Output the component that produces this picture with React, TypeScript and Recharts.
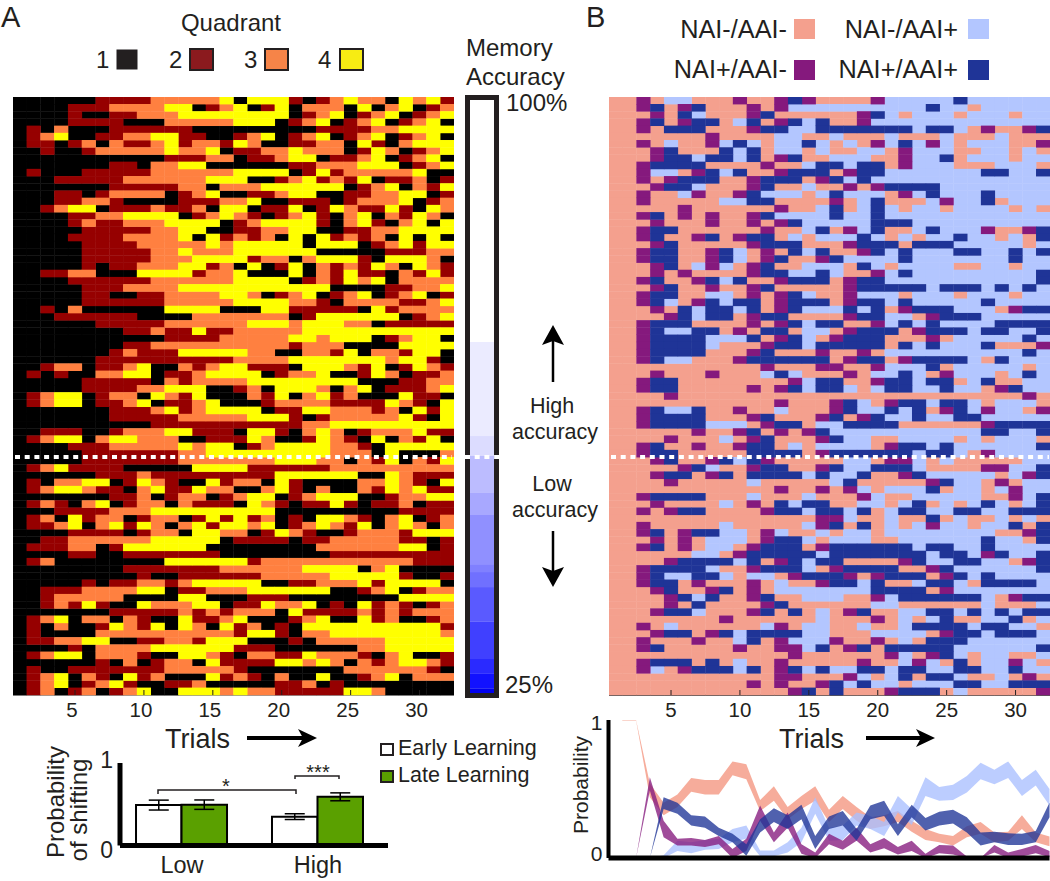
import React from "react";
import {
  ScatterChart, Scatter, XAxis, YAxis, BarChart, Bar, ErrorBar, AreaChart, Area,
} from "recharts";

const FONT = "'Liberation Sans', Arial, sans-serif";
const INK = "#231f20";

const trialTicks = [5, 10, 15, 20, 25, 30];
const rowTicks = [4, 14, 24, 34, 44, 54, 64, 74];

// Panel A: quadrant visited per trial (1 to 4), one string per animal
const quadrantRows = [
  "111111 2222 33333 4 1 444 2 1 2 3 4 33 1 4 3 4 2",
  "1111 222 3333 44 1 2 3 4 1 2 4 1 333 1 4 1 3 4 1 2 3",
  "1111 2 11 22 333 44444444 1 2 3 4 1 2 3 4 1 2 3 4",
  "1111 2222 111 33333 444 1 2 3 4 1 2 3 4 1 2 3 4 1",
  "1 2 1 3 111 222222 111111111 2222 33 4444",
  "1 2 3 4 11 22 33 44 22 11 2 3 4 1 2 3 4 1 2 3 4 1 2 3 4 1",
  "1 22 1 2 3 1 3 22 3 4 2 33 2 4 3 11 22 33 1 4 2 1 3 444",
  "11 2 11 2 33333 4 33 4 1 22 33 4 333 1 2 4 3 1 2 3 4",
  "11111111111 222 33 1 22 3 44 1 22 3 4 1 2 3 4 1",
  "1111111 22 1 33 44 111111 22 333 444 1 2 3 4",
  "1 2 111 22222 333333 4444 1 2 4 2 33333 4 11",
  "111 22222 333333 444 11 2 3 4 2 3 2 4 1 22 3 1 2",
  "1111111 22222 33 1 3 33 444444 1 2 3 4 1 3 2 4",
  "111 22 1 2 3333 1 2 3 4 11 22 3 44 11 22 33 44 1 2",
  "111 22 33 2 1111 222 33 4 11 222 1 2 333 4 1 2 3",
  "11 2 3 44 1 222 3 22 3 1 44 1 22 4 1 2 4 3 22 4 2 1 4 3",
  "1111 22 33 4444 1 2 3 4 3 2 1 2 3 4 2 1 3 4 1 3 2 4 3 1",
  "1111 2 3 22 333 4444 1 2 3 4444 2 1 3 4 2 1 3 4 1 4",
  "11111 22222 33 44 11 22 33 44 11 22 33 4444",
  "1111 2222 3333 4 1 4 2 3 2 3 1 4 1 4 2 3 2 3 1 4 1 4 1",
  "11111 2222 33333 4 3 44444 1 444 1 2 3 4 2 44",
  "11111 22222 33 4 333 444444 11111 222 33",
  "11111 22222 333 4444 2 33 1 3 444 2 1 444 3 1",
  "11111 2 1 22 333 44 2 3 1 4 1 2 4 1 3 2 3 2 4 3 1 4 3 2",
  "11 22 33 111 4444 2 33 4 111 4 1 3 2 4 22 1 3 2 4 2",
  "1111 222222 333333 4444 1 2 3 2 4 3 4 1 3333",
  "11111 222 3333 44444444444 1111 22 33 4",
  "11111 22 11 22 3333 4 4 3 1 2 3 4 1 2 3 4 1 2 3 4 1 2",
  "11111 222222 33333 4444 33 2 1 3333 22 3 4",
  "11 2 1 3 111111 4444 111 44 22222 1 4 2 3333",
  "111 222222 1111 3333333 1 2 444444 1 2 3 4",
  "111111 22222 333333 444 3 444 33 1 22222",
  "11111111 22 3 22 4 22 33333 44444444444",
  "11111111111 2222 33333 44 3 444 1 2 3 44 1",
  "11111111 22 3333333333 2 333 1111 4444",
  "1111111 2 3 222 44444 33 11 33 2 4 1 33 2 44 1",
  "111111 2222222222 3333 4444444 3 44 2 1",
  "11 2 33 1 22 3 4 11 3 2 3 44 222 1 444 3 2 4 1 2 4 3 2",
  "1 2 1 2 11 33 44 1 22 3 444 4 1 2 33 4 11 2 4 3 1 22 3",
  "11111 22222 1 3 2 3333 44444444 111 22 33",
  "11111 2222 33 444 11 2 3 1 444 3 1 3 4 1 222 3 4",
  "1 2 3 44 1 2 33 1 4 3 2 4 111 3 2 4 1 3 4 2 3 111 4 22 1",
  "1 2 3 44 1 22 3 4 1 22 3 4 111 2 3333 2222 4 3 2 1 4",
  "1111111 222 3 4 2 3 4444 1 22 44 333 2 3 1 4 2 4",
  "1111111 22222 33333 444 2 1 2 33333 4 2 1 4",
  "1111111111 22222222222 33 444444444",
  "11 222 11 2 333 44 222 1 44 2 1 3 4 3 1 2 333 4 22",
  "1 2 3 44 1 3 44 333 11 222 4 3 11 2 4 3 2 1 4 1 3 2 4 1",
  "1111 222 33333 4 3 44 1 2 3 4444 33 2 1 44444",
  "11111 2222222 33 44 4444444 333 1 4 111 3",
  "11111 2222222 3333333 444 33 1 3 2 4 1 3 2 4",
  "1 2 3 4 2222 11111 4444 222222 333333333",
  "111111 222 3 222222222 444444 11 4 3 222",
  "1 2 1 33 44 1 2 4 3 2 11 4 2 33 1 4 2 1111 33 4 3 2 1 4",
  "1 2 3 44 3 22 1 3 4 22 4 33 11 3 4 2 1 3 11 3 2 4 3 4 22",
  "1111111 22 3 1 2 33 1 2 3 44 1 2 3 444 11 2 33 44",
  "1 2 3 2 1 3 4 1 2 33 1 3 222 1 4 3 2 1 22 4 2 1 22 3 1 22",
  "111 2222 333 444444444 111111111 2222",
  "1 2 3 1 4 2 33 1 2 33 1 2 4 2 4 2 3 1 2 1 44 3 2 1 3 4 1 2 3",
  "1 22 3 4 1 3 4 2 4 3 1 3 4 2 44 3 4 1 2 3 4 3 2 4 1 3 4 3 1 3",
  "1111 2222 1 2 33 1 44 33 1 2 4 3 2 11 2 333 2 444",
  "11 22 333333 44444 1 2222 1 22 33333 22 1 2",
  "1 222 33 1 2 444444 11111111 333333 44 1 2",
  "1111 22 11 2222222 11111111 222222222",
  "1 2 3 11111111 444444 2 33333333333 222",
  "11111111 2222222 333333 4444 1 3 4 1111",
  "111111111 2 11 222222 33333 44444 2 11 2",
  "11111 2 1 22 33 2 3 44444 11 22 333 4 2 4444 1",
  "11 222 3333 44 1 22 333 444444 11 2 3 4 1 2 33",
  "11 2 33333 1111 44 111 222 11111111 4444",
  "11 2 3 2 4 2 11 4 333 44 1 22 4 33 4 1 2 1 4 2 3 2 1 2 3",
  "1111111 22222 3 2 3 2 333 1 4 2222 3 2 3 2 333",
  "1 2 3 4 1 33 1 3 2 11 4 22 3 4 111 2 3 4 11 4 2 3 11 2 3",
  "1 2 1 3 11 2 4 3 2 4 1 4 3 1 4 2 3 1 2 1 4444444444 2",
  "1 2 1111 3333333333 2 44 2 1 33 44444444 3",
  "1 22 33 44 11 22 33 2 444 111 2 1 33333 44444",
  "1111 2 1 3333 44444 4 222 111111 33 44444",
  "1 2 3 44 1 333 2 11 44 3 2 1 33 22 4 333 2 1 3 4 11 2",
  "111111 2 1 3 1 2 33 1 4 2 222 44 3 4 3 1 3 2 3 44 3 2",
  "1 2 11 2222222 33333 2 1111111 333333 2 1",
  "1 2 3 4 1 3 2 1 4 2 3 111 4 2 3 2 1 3 11 4 11 2 3 4 1 333",
  "1 2 3 4 1 2 3 4 2 11 22 3 111 11 22 3 1 2 11111111",
  "1 2 3 1 2 3 1 2 3 4 11 444 3 4 33 22222 44 3 11111",
];

// Panel B: 1 NAI-/AAI-, 2 NAI-/AAI+, 3 NAI+/AAI-, 4 NAI+/AAI+
const strategyRows = [
  "11 3 1 22 111 3 11 3 4 3 1 111 3 22222 4 222222",
  "11 3 4 1 3 4 111 3 1 3 222 2222222 4 22 1 22222",
  "111 3 1 4 2 111 3 4 1111 11 3 4 2 1 222 1 222 1 22",
  "11 3 4 1 3 44 1 2 4 1 3 4 2 4 11 3 2222222222222",
  "11 3 1 444 111 3 44 22 4 444444 2 44 2 1 3 11 3 4",
  "1111111 3 1111 22 11 2 111 2 111 2 111 2 111",
  "11 3 1 2 11 3 2 4 2 1 22 4 2 1 2 1 3 2 4 2 3 2 1 222 11 3",
  "111 3 4 111 4 2 4 1 22 1 2 11 22 1 3 222 11 22 1 2 1",
  "111 3 44 2 44 2 4 1 3 4 11 222 11 3 22 4 1 222 1 22",
  "11 3 4444 1111 3 11 2 4 4 2 44 1 3 222 111 222 1",
  "11 3 22 1 3 4 2 4 11 3 444 1 3 44 2222222 44 22 4",
  "11 3 1 3 444 11 3 444 1 3 4 2 4 2222222222222",
  "111 3 44 2 111 3 4 11 2 1 1 3 1 3 4444 22222222",
  "11 3 11 2 3 11 3 4 222 1 2 4 222 1 3 2 4 222 4 2222",
  "11 3 11111 22 44 1111 3 1 2 4 111 2 3 22 4 1 222",
  "11111 3 111111 3 11 2 4 1 2 4 2 1 22 1 2222 1 2 1",
  "11 3 4 1 3 1 3 11 3 4 2222 4 22 4 222222222222",
  "111 3 111 3 11 3 1 3 4 22 222 444 2222222222",
  "11 3 44 111111 3 11 2 4 1 3 2 4 11 2 4 222 3 11 3 4",
  "11 3 4 11 3 4 1 3 44 1 2 1 2 22 4 2 1 2 1 22 4 22 1 2 1 4",
  "111 3 4 11111 3 444 11 1 3 444 1 444 22222 1 2",
  "11 3 44 11 3 4 2 1 3 1 4 2 4 11 3 4 2 4 222 44 22 4 2 4",
  "11 3 44 11 3 4 2 1 3 4 11 3 4 222 2 4 2222222 4 22",
  "111 3 4 1 2 3 2 1 3 4 11 22 2 1 4 2 1 2222 11 22 1 22",
  "111 3 1 3 1111 3 44 22 4 2 11 3 2 4 222222222 4",
  "11 3 4 11 3 4 2 4 11 3 444 1 3 44 22222222222 4",
  "111 3 4 11 3 11 3 4 1111 1 3 44444 2 444 2 4 2 4 2",
  "11 3 44 11 22 1 3 1 3 4 2 1 1 3 222 1 222 1 222 1 22",
  "11 3 4 2 1 3 4 2 44 1 3 444 1 3 44 2 4 22222 4 2222",
  "111 3 1 4 2 44 2 4 1 3 4 22 2 4 2 4 1 3 444 222 1 3 44",
  "1111 3 4 2 44 1 3 44 111 1 3 44 22 1 3 444 22222",
  "11 3 444 1111 3 1 3 4 2 4 4 11 3 2 4 2 4 2222 4444",
  "11 3 4 22 44 1 3 1 44 1 2 2 1 3 444 1 3 444 2 44 22 4",
  "11 3 4444 222 4 1 3 4 2 1 3 444 111 3 1 22222 4 2",
  "11 3 4444 2 111 3 44 2 4 4444 1 4 2 4 222 4 111 3",
  "11 3 4444 111 3 4 111 3 11 3 1 2222222222 4 2",
  "11 3 4 22 111 3 444444 1 3 44 1 3 4444 2 1 4 222",
  "11111111111 3 111 3 3 11 3 222 4 1 22222 1 2",
  "111 3 111 3 111 2 4 2 11 1 3 1 22 4 2 1 3 222 1 2 4 2",
  "11 3 44 11111111 3 2 4 4 11 3 44 2 44 1 2 4 11 22",
  "11 3 44 11111 3 1 3 4 2 4 4 2 1 2 44 22 4 22 1 3 4 22",
  "1111 3 11111111111 11111111111111 3 1",
  "111111111111 3 111 3 4 2 1 3 44 2 44 2 1 222 1",
  "11 3 4 22 4 11 3 11 2 111 3 4 22 4 2 4 1 3 4 2 3 22 1 3",
  "11 3 4444 111 3 4 111 3 4 1 3 4 22 4 22 44 22222",
  "11 3 4444 222 1 3 44 1 2 2 4444 111111 3 4444",
  "111111 3 11 3 4 1 3 1 3 4 22222222222 44 22 4",
  "1111 3 111 2 1 3 4 111 3 4 22 11 2222 1 2 1 222 1",
  "11 3 4 11 3 11 3 44 1 2 1 2 222 1 3 44 2 4 222222 4",
  "11 3 44 11111 4444 1 3 444444 2 44 2 1 3 2222",
  "111 3 4 11 3 4 2 4 3 1111 1 22 1 33 2 1 2 11111 22",
  "11111 3 4 2 11 3 44 11 3 4 22 444 2 1111 33 22 4",
  "111 3 44 1 3 4 1 4444 2 4 22 4 11 3 4 22222 1 2 3 4",
  "1111 3 11111 2 11111 2 4 11111 3 4 22 1 3 1 22",
  "111111111111 3 11 3 1 3 2 1 222 4 1 22 1 2 3 22",
  "11 3 4444 111 2 111 2 111 3 2 11 22222 11 3 2 4",
  "111 3 1111 2 1 3 1 4 2 44 11 22 1 2 4 1 2 1 2 4 2 1 2 4",
  "11 3 1 3 44 1111 3 44 2 4 4 2 4 1 2 44 22 44 22 444",
  "111111111111111 3 3 2 11 2 11 4 1 2 11 2 1 2 1",
  "11 3 11111 2 11111 2 3 4 1 4 1 2 1 2 3 22 1 22 4 1 4",
  "11 3 4 1 3 44 22 1 3 2 11 2 1 22 1 22222222 11 3 4",
  "111 3 1 3 1 222 1 3 44 2 1 222 11 222222 4 22 1 4",
  "11 3 4 1 3 1 22 1 3 444 1 3 444444 2 44 22 4 2222",
  "111111 22 1 3 44444 2 4444444 2 44 2 3 4 22 4",
  "1111 3 4444 2 4 1 3 4 2 4 4 1111 3 4 22 44 22 1 3 4",
  "11 3 4444 2 11 3 444 2 1 3 4444 11 3 4 222222 4",
  "11 3 4 22 44 2 1 22 1 3 44 4 3 1 3 444 1 3 4 2 4 2222",
  "11 3 44 1 3 111 3 1 2 11 3 44 2 4 11 2 44 2 1 4444 2",
  "111 3 4 11 3 4 1 3 1 2222 222 4444 1 3 2222222",
  "1111 3 4 2 4 11 3 4 11 22 2 11 3 2 444444 2 1 3 44",
  "1111 3 1 4 111 1 3 4 111 111 22 111111 2 111 2",
  "111 3 44 2 111 3 4 1 4 1 2 1 3 4 11 22 44 2 4 2 4 2 44",
  "11111111 3 111111 2 111 3 1 2 1 2 4 11 22 4 1 2",
  "11 3 1 2 111111 2 3 1 22 11 2 11 2 4444 2 44 22 1",
  "111 3 44 1 3 4 2 4444 22 111 222 2 1 3 44 2 444 2",
  "11 3 111 3 11 2 4 1 3 222 3 11 3 1 2 1 444 222222",
  "11 3 4 11111 3 11 33 2 4 1 3 4 1 44444 222222 4",
  "1111111111111 3 11 1111 3 2 1 3 4 2 1 22 11 2",
  "11 3 444 1 4 1 2 11 3 111 11 3 11 2 3 2 1 4 1 22 3 2 1",
  "11 3 2 1 3 444 2 4 1 3 4 2 4 22 44 2 44 22 44 22 4 22",
  "111111111111 33 11 1 3 2 1 2 4 1 44 2 11 2 1 3 1",
  "1111111111 3 1 3 11 3 4 2 4 22 1 222 44 22 444",
  "1111111111111 3 4 1 4 111 3 444 1 2 11111 3",
];

const quadrantColors = ["#000000", "#960000", "#ff8040", "#ffff00"];
const strategyColors = ["#f4a08e", "#b3c6ff", "#85197d", "#1f3497"];

// Memory accuracy colour scale, top to bottom, spans in accuracy points
const scaleSpans = [30.6, 11.9, 2.5, 4.7, 2.8, 6.3, 0.9, 1.9, 4.4, 4.7, 1.8, 1.9, 0.6];
const scaleColors = ["#ffffff", "#ebebff", "#dcdcff", "#bcbcff", "#a8a8ff", "#9090ff", "#8080ff", "#7070ff", "#5a5aff", "#4040ff", "#2a2aff", "#1212ff", "#0000ee"];

// Probability of shifting
const groupNames = ["Low", "High"];
const groupIndex = [1, 2];
const earlyValues = [0.49, 0.35];
const earlyErrors = [0.06, 0.035];
const lateValues = [0.495, 0.59];
const lateErrors = [0.057, 0.048];

// Band bounds per trial, trials 1 to 33
const n = null;
const salmonHi = [n, 1, 1, .54, .40, .46, .58, .565, .565, .70, .68, .42, .52, .37, .45, .52, .35, .45, .37, .295, .31, .34, .27, .21, .175, .16, .23, .26, .185, .19, .31, .185, .155];
const salmonLo = [n, .996, .996, .44, .31, .37, .48, .46, .46, .60, .57, .34, .415, .28, .355, .415, .26, .355, .27, .21, .23, .26, .19, .13, .115, .09, .15, .175, .115, .125, .21, .115, .085];
const lightHi = [n, n, n, 0, .02, .125, .115, .13, .14, .21, .235, .055, .055, .115, .22, .44, .22, .235, .33, .305, .26, .45, .355, .585, .515, .53, .595, .69, .64, .70, .565, .64, .50];
const lightLo = [n, n, n, 0, 0, .05, .035, .06, .065, .115, .14, .012, .012, .04, .115, .32, .125, .13, .235, .21, .16, .33, .24, .45, .415, .42, .475, .57, .535, .58, .45, .525, .38];
const purpleHi = [n, n, 0, .585, .27, .14, .145, .13, .16, .065, .14, .38, .185, .33, .10, .04, .175, .125, .22, .10, .145, .08, .125, .03, .095, .09, .01, 0, .095, .04, .065, .095, .05];
const purpleLo = [n, n, 0, .49, .15, .09, .09, .08, .10, 0, .05, .27, .115, .22, .03, 0, .10, .06, .125, .04, .07, .025, .05, 0, .035, .025, 0, 0, .04, 0, .01, .035, .005];
const navyHi = [n, n, n, 0, .44, .40, .31, .30, .22, .175, .10, .28, .36, .31, .385, .16, .30, .34, .21, .38, .415, .245, .385, .29, .335, .35, .295, .185, .19, .18, .175, .195, .40];
const navyLo = [n, n, n, 0, .355, .32, .235, .22, .16, .115, .017, .185, .26, .21, .28, .065, .21, .235, .125, .28, .305, .16, .295, .20, .235, .25, .185, .09, .115, .095, .095, .115, .295];

const bandRows = salmonHi.map((_, i) => {
  const band = (lo: (number | null)[], hi: (number | null)[]) => (hi[i] === null ? null : [lo[i], hi[i]]);
  return {
    t: i + 1,
    salmon: band(salmonLo, salmonHi),
    light: band(lightLo, lightHi),
    purple: band(purpleLo, purpleHi),
    navy: band(navyLo, navyHi),
  };
});

const shiftRows = groupNames.map((name, i) => ({
  name, idx: groupIndex[i], early: earlyValues[i], earlyErr: earlyErrors[i], late: lateValues[i], lateErr: lateErrors[i],
}));

const PLOT_W = 441;
const PLOT_H = 598;
const CELL_W = PLOT_W / 32;
const CELL_H = PLOT_H / 83;

function cellsFor(rows: string[], code: number) {
  const out: { trial: number; row: number }[] = [];
  rows.forEach((r, ri) => {
    r.replace(/ /g, "").split("").forEach((c, ci) => {
      if (Number(c) === code) out.push({ trial: ci + 1, row: ri + 1 });
    });
  });
  return out;
}

const CellShape = (props: any) => (
  <rect x={props.cx - CELL_W / 2 - 0.2} y={props.cy - CELL_H / 2 - 0.2} width={CELL_W + 0.4} height={CELL_H + 0.4} fill={props.fill} />
);

const BottomTick = (p: any) => (
  <g>
    <line x1={p.x} x2={p.x} y1={p.y} y2={p.y - 5} stroke={INK} strokeWidth={1} />
    <text x={p.x + (p.labelShift || 0)} y={p.y + 22} textAnchor="middle" fontSize={20.5} fontFamily={FONT} fill={INK}>{p.payload.value}</text>
  </g>
);
const TopTick = (p: any) => <line x1={p.x} x2={p.x} y1={p.y} y2={p.y + 5} stroke={INK} strokeWidth={1} />;
const LeftTick = (p: any) => <line x1={p.x} x2={p.x + 5} y1={p.y} y2={p.y} stroke={INK} strokeWidth={1} />;
const RightTick = (p: any) => <line x1={p.x} x2={p.x - 5} y1={p.y} y2={p.y} stroke={INK} strokeWidth={1} />;

function Heatmap({ rows, colors, left, frame, tickSide, labelShift }: { rows: string[]; colors: string[]; left: number; frame: string; tickSide: "left" | "right"; labelShift: number }) {
  return (
    <div style={{ position: "absolute", left, top: 97 }}>
      <ScatterChart width={PLOT_W} height={PLOT_H + 30} margin={{ top: 0, right: 0, bottom: 0, left: 0 }}>
        <XAxis xAxisId="b" dataKey="trial" type="number" domain={[0.5, 32.5]} ticks={trialTicks} interval={0} height={30}
          axisLine={{ stroke: frame, strokeWidth: 1.5 }} tickLine={false} tickSize={0} tickMargin={0} tick={<BottomTick labelShift={labelShift} />} />
        <XAxis xAxisId="t" orientation="top" type="number" domain={[0.5, 32.5]} ticks={trialTicks} interval={0} height={0}
          axisLine={{ stroke: INK, strokeWidth: 1 }} tickLine={false} tickSize={0} tickMargin={0} tick={<TopTick />} />
        <YAxis yAxisId="l" dataKey="row" type="number" reversed domain={[0.5, 83.5]} ticks={tickSide === "left" ? rowTicks : []} interval={0} width={0}
          axisLine={{ stroke: frame, strokeWidth: 1.5 }} tickLine={false} tickSize={0} tickMargin={0} tick={<LeftTick />} />
        <YAxis yAxisId="r" orientation="right" type="number" reversed domain={[0.5, 83.5]} ticks={tickSide === "right" ? rowTicks : []} interval={0} width={0}
          axisLine={{ stroke: "#888888", strokeWidth: 1 }} tickLine={false} tickSize={0} tickMargin={0} tick={<RightTick />} />
        {colors.map((c, i) => (
          <Scatter key={c} xAxisId="b" yAxisId="l" data={cellsFor(rows, i + 1)} fill={c} shape={<CellShape />} isAnimationActive={false} />
        ))}
      </ScatterChart>
    </div>
  );
}

const scaleRow = [Object.fromEntries(scaleSpans.map((v, i) => ["s" + i, v]))];

function ColorScale() {
  return (
    <div style={{ position: "absolute", left: 465, top: 95, width: 24, height: 593, border: `5px solid ${INK}` }}>
      <BarChart width={24} height={593} data={scaleRow} margin={{ top: 0, right: 0, bottom: 0, left: 0 }} barCategoryGap={0}>
        <XAxis hide />
        <YAxis hide reversed domain={[0, 75]} allowDataOverflow />
        {scaleColors.map((c, i) => (
          <Bar key={c} dataKey={"s" + i} stackId="scale" fill={c} isAnimationActive={false} />
        ))}
      </BarChart>
    </div>
  );
}

const ShiftYTick = (p: any) => (
  <text x={p.x - 7} y={p.payload.value === 1 ? p.y + 5 : p.y + 12} textAnchor="end" fontSize={23} fontFamily={FONT} fill={INK}>{p.payload.value}</text>
);
const ShiftXTick = (p: any) => (
  <text x={p.x} y={p.y + 27} textAnchor="middle" fontSize={23.5} fontFamily={FONT} fill={INK}>{groupNames[p.payload.value - 1]}</text>
);

function ShiftBars() {
  return (
    <div style={{ position: "absolute", left: 80, top: 735 }}>
      <BarChart width={310} height={146} data={shiftRows} margin={{ top: 28, right: 2, bottom: 0, left: 0 }} barGap={0} barSize={45.5}>
        <XAxis dataKey="idx" type="number" scale="linear" domain={[0.544, 2.515]} ticks={groupIndex} interval={0} allowDataOverflow height={35.5}
          axisLine={{ stroke: "#000", strokeWidth: 5 }} tickLine={false} tickSize={0} tickMargin={0} tick={<ShiftXTick />} />
        <YAxis type="number" domain={[0, 1]} ticks={[0, 1]} width={40} interval={0}
          axisLine={{ stroke: "#000", strokeWidth: 5 }} tickLine={false} tickSize={0} tickMargin={0} tick={<ShiftYTick />} />
        <Bar dataKey="early" fill="#ffffff" stroke="#000" strokeWidth={2} isAnimationActive={false}>
          <ErrorBar dataKey="earlyErr" width={10} stroke="#000" strokeWidth={1.5} />
        </Bar>
        <Bar dataKey="late" fill="#5aa000" stroke="#000" strokeWidth={2} isAnimationActive={false}>
          <ErrorBar dataKey="lateErr" width={10} stroke="#000" strokeWidth={1.5} />
        </Bar>
      </BarChart>
    </div>
  );
}

const BandYTick = (p: any) => (
  <text x={p.x - 6} y={p.payload.value === 1 ? p.y + 10 : p.y + 3} textAnchor="end" fontSize={21} fontFamily={FONT} fill={INK}>{p.payload.value}</text>
);

const bandSeries = [
  { key: "salmon", color: "#f4957f" },
  { key: "light", color: "#a9bfff" },
  { key: "purple", color: "#85197d" },
  { key: "navy", color: "#1f3497" },
];

function Bands() {
  return (
    <div style={{ position: "absolute", left: 578, top: 710 }}>
      <AreaChart width={472} height={160} data={bandRows} margin={{ top: 10, right: 0.5, bottom: 0, left: 0 }}>
        <XAxis dataKey="t" type="number" domain={[1, 33]} height={12} tick={false} tickLine={false} axisLine={{ stroke: "#000", strokeWidth: 5 }} />
        <YAxis type="number" domain={[0, 1]} ticks={[0, 1]} width={30.5} interval={0} allowDataOverflow
          axisLine={{ stroke: "#000", strokeWidth: 4 }} tickLine={false} tickSize={0} tickMargin={0} tick={<BandYTick />} />
        {bandSeries.map((s) => (
          <Area key={s.key} dataKey={s.key} type="linear" fill={s.color} fillOpacity={0.78} stroke="none" isAnimationActive={false} connectNulls={false} dot={false} activeDot={false} />
        ))}
      </AreaChart>
    </div>
  );
}

function T({ x, y, size = 24, anchor = "start", rotate, children }: any) {
  return (
    <text x={x} y={y} fontSize={size} textAnchor={anchor} fontFamily={FONT} fill={INK}
      transform={rotate ? `rotate(${rotate} ${x} ${y})` : undefined}>{children}</text>
  );
}

function Sq({ x, y, w = 22, h = 20, fill, bw = 2 }: any) {
  return <rect x={x} y={y} width={w} height={h} fill={fill} stroke={INK} strokeWidth={bw} />;
}

const DIVIDER = { stroke: "#ffffff", strokeWidth: 4, strokeDasharray: "5 4.7" };

function Annotations() {
  return (
    <svg width={1050} height={881} style={{ position: "absolute", left: 0, top: 0, pointerEvents: "none" }}>
      <T x={1} y={27} size={29}>A</T>
      <T x={586} y={27} size={29}>B</T>

      <T x={231} y={31} anchor="middle">Quadrant</T>
      <T x={96} y={68}>1</T><Sq x={117} y={50} w={20} h={19} fill="#231f20" bw={1} />
      <T x={169} y={68}>2</T><Sq x={190} y={49} w={23} h={21} fill="#8b1a1e" />
      <T x={244} y={68}>3</T><Sq x={265} y={49} w={23} h={21} fill="#f68448" />
      <T x={318} y={68}>4</T><Sq x={340} y={49} w={23} h={21} fill="#f7ec13" />

      <T x={466} y={56}>Memory</T>
      <T x={466} y={85}>Accuracy</T>
      <T x={506} y={111}>100%</T>
      <T x={505} y={693}>25%</T>

      <line x1={15} x2={452} y1={457} y2={457} {...DIVIDER} />
      <line x1={465} x2={499} y1={457} y2={457} {...DIVIDER} />
      <line x1={611} x2={1049} y1={457} y2={457} {...DIVIDER} />

      <line x1={553} x2={553} y1={382} y2={340} stroke="#000" strokeWidth={2.5} />
      <polygon points="553,325 564,345 553,341 542,345" fill="#000" />
      <T x={552} y={413} size={21.5} anchor="middle">High</T>
      <T x={555} y={439} size={21.5} anchor="middle">accuracy</T>
      <T x={552} y={491} size={21.5} anchor="middle">Low</T>
      <T x={555} y={517} size={21.5} anchor="middle">accuracy</T>
      <line x1={553} x2={553} y1={531} y2={572} stroke="#000" strokeWidth={2.5} />
      <polygon points="553,587 564,567 553,571 542,567" fill="#000" />

      <T x={165} y={748} size={27}>Trials</T>
      <line x1={247} x2={305} y1={738} y2={738} stroke="#000" strokeWidth={4} />
      <polygon points="317,738 298,729 303,738 298,747" fill="#000" />
      <T x={779} y={748} size={27}>Trials</T>
      <line x1={866} x2={923} y1={738} y2={738} stroke="#000" strokeWidth={4} />
      <polygon points="935,738 916,729 921,738 916,747" fill="#000" />

      <T x={64} y={802} anchor="middle" rotate={-90}>Probability</T>
      <T x={87} y={810} anchor="middle" rotate={-90}>of shifting</T>
      <Sq x={381} y={744} w={12} h={11} fill="#ffffff" />
      <T x={398} y={755} size={21.5}>Early Learning</T>
      <Sq x={381} y={771} w={12} h={11} fill="#5aa000" />
      <T x={398} y={782} size={21.5}>Late Learning</T>

      <path d="M158 794 V790 H296 V794" fill="none" stroke={INK} strokeWidth={1.5} />
      <T x={226} y={793} size={20} anchor="middle">*</T>
      <path d="M295 779 V776 H339 V779" fill="none" stroke={INK} strokeWidth={1.5} />
      <T x={318} y={779} size={20} anchor="middle">***</T>

      <T x={787} y={38} size={25.3} anchor="end">NAI-/AAI-</T>
      <rect x={794} y={19} width={21} height={20} fill="#f4a08e" />
      <T x={958} y={38} size={25.3} anchor="end">NAI-/AAI+</T>
      <rect x={968} y={19} width={21} height={20} fill="#b3c6ff" />
      <T x={787} y={78} size={25.3} anchor="end">NAI+/AAI-</T>
      <rect x={794} y={60} width={21} height={20} fill="#85197d" />
      <T x={958} y={78} size={25.3} anchor="end">NAI+/AAI+</T>
      <rect x={968} y={60} width={21} height={20} fill="#1f3497" />

      <T x={588} y={785} size={21} anchor="middle" rotate={-90}>Probability</T>
    </svg>
  );
}

export default function App() {
  return (
    <div style={{ position: "absolute", left: 0, top: 0, width: 1050, height: 881, background: "#fff", overflow: "hidden" }}>
      <Heatmap rows={quadrantRows} colors={quadrantColors} left={13} frame="#777777" tickSide="right" labelShift={-3} />
      <Heatmap rows={strategyRows} colors={strategyColors} left={608.5} frame={INK} tickSide="left" labelShift={0} />
      <ColorScale />
      <ShiftBars />
      <Bands />
      <Annotations />
    </div>
  );
}
